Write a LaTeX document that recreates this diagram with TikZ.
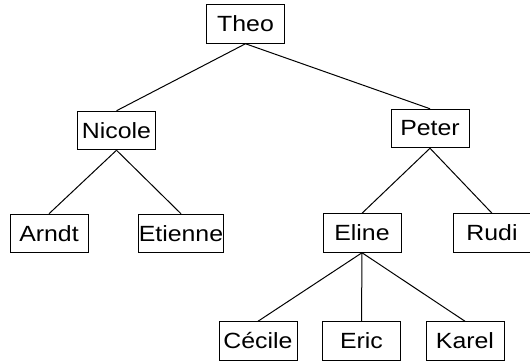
\documentclass[tikz,border=0pt]{standalone}
\usepackage{fontspec}
\setmainfont[FakeStretch=1.13]{Liberation Sans}
\begin{document}
\begin{tikzpicture}[x=1pt,y=-1pt,
  person/.style={draw,line width=1pt,minimum width=78pt,minimum height=38.5pt,inner sep=0pt,font=\fontsize{22}{26}\selectfont},
  link/.style={line width=1pt}]
\useasboundingbox (0,0) rectangle (530,361);
\node[person] (theo) at (245.5,24) {Theo};
\node[person] (nicole) at (116.5,130.5) {Nicole};
\node[person] (peter) at (430,128.5) {Peter};
\node[person] (arndt) at (49,233.5) {Arndt};
\node[person] (etienne) at (181,233.5) {Etienne};
\node[person] (eline) at (362,233) {Eline};
\node[person] (rudi) at (492,233) {Rudi};
\node[person] (cecile) at (258,341) {Cécile};
\node[person] (eric) at (361.5,341) {Eric};
\node[person] (karel) at (465,341) {Karel};
\draw[link] (theo.south) -- (nicole.north);
\draw[link] (theo.south) -- (peter.north);
\draw[link] (nicole.south) -- (arndt.north);
\draw[link] (nicole.south) -- (etienne.north);
\draw[link] (peter.south) -- (eline.north);
\draw[link] (peter.south) -- (rudi.north);
\draw[link] (eline.south) -- (cecile.north);
\draw[link] (eline.south) -- (eric.north);
\draw[link] (eline.south) -- (karel.north);
\end{tikzpicture}
\end{document}
